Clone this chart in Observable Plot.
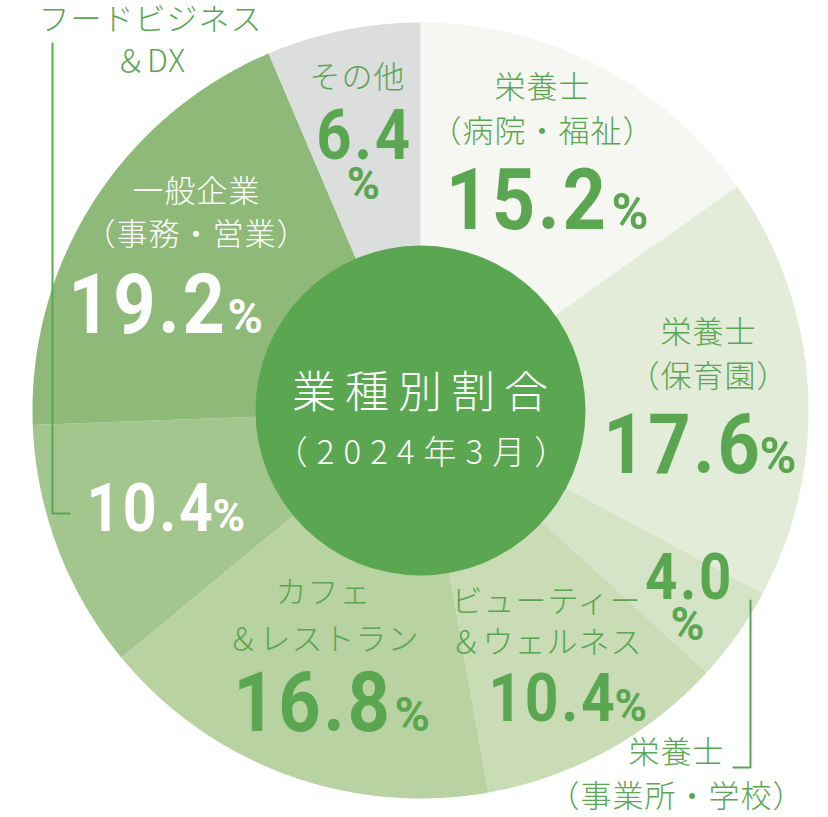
<!DOCTYPE html>
<html><head><meta charset="utf-8">
<script src="https://cdn.jsdelivr.net/npm/d3@7"></script>
<script src="https://cdn.jsdelivr.net/npm/@observablehq/plot@0.6"></script>
<style>
html,body{margin:0;padding:0;background:#fff;}
#chart svg{display:block;}
</style>
</head><body><div id="chart"></div>
<script>
// ---- data ----
const categories = ["栄養士（病院・福祉）","栄養士（保育園）","栄養士（事業所・学校）","ビューティー＆ウェルネス","カフェ＆レストラン","フードビジネス＆DX","一般企業（事務・営業）","その他"];
const values = [15.2, 17.6, 4.0, 10.4, 16.8, 10.4, 19.2, 6.4];
const labelLines = [["栄養士","（病院・福祉）"],["栄養士","（保育園）"],["栄養士","（事業所・学校）"],["ビューティー","＆ウェルネス"],["カフェ","＆レストラン"],["フードビジネス","＆DX"],["一般企業","（事務・営業）"],["その他"]];
const centerTitle = "業種別割合";
const centerSubtitle = "（2024年3月）";

// ---- styles / layout ----
const sliceColors = ["#f6f7f2","#e3ebd9","#d5e3c6","#c9dcb6","#b9d2a2","#a3c68e","#8eb978","#dcdddd"];
const GREEN = "#5aa651";
const WHITE = "#ffffff";
const CX = 420, CY = 410, R = 388, R0 = 165;
const NUM_SCALE = 0.88;
// label layout per slice: text line centers, number split point/baseline, sizes
const layout = [
  {lx:542, ly:[88,132], nx:608, ny:228, ns:86, px:611, py:228, ps:50, stack:false, color:GREEN},
  {lx:708, ly:[333,377], nx:762, ny:472, ns:84, px:759, py:472, ps:50, stack:false, color:GREEN},
  {lx:676, ly:[753,797], nx:689, ny:598, ns:64, px:687, py:639, ps:46, stack:true, color:GREEN},
  {lx:546, ly:[602,643], nx:617, ny:720, ns:67, px:614, py:720, ps:44, stack:false, color:GREEN},
  {lx:323, ly:[593,640], nx:392, ny:730, ns:84, px:394, py:730, ps:48, stack:false, color:GREEN},
  {lx:150, ly:[20,62], nx:215, ny:530, ns:67, px:212, py:530, ps:44, stack:false, color:WHITE, labelColor:GREEN},
  {lx:196, ly:[192,235], nx:227, ny:332, ns:84, px:227, py:332, ps:48, stack:false, color:WHITE},
  {lx:357, ly:[78], nx:364, ny:158, ns:70, px:363, py:198, ps:45, stack:true, color:GREEN}
];
const brackets = [
  {id:"left", pts:[[52,43],[52,513],[69,513]]},
  {id:"right", pts:[[750,600],[750,767],[733,767]]}
];

// ---- derived ----
const arcs = d3.pie().sort(null).value(d => d)(values);
const slicePts = [];
arcs.forEach((a, i) => {
  slicePts.push({cat: categories[i], x: CX, y: CY});
  const n = Math.max(4, Math.ceil((a.endAngle - a.startAngle) / (Math.PI / 360)));
  for (let k = 0; k <= n; k++) {
    const t = a.startAngle + (a.endAngle - a.startAngle) * k / n;
    slicePts.push({cat: categories[i], x: CX + R * Math.sin(t), y: CY - R * Math.cos(t)});
  }
});

const labelRows = [];
const numRows = [];
const pctRows = [];
values.forEach((v, i) => {
  const L = layout[i];
  labelLines[i].forEach((t, j) => labelRows.push({x: L.lx, y: L.ly[j], text: t, color: L.labelColor || L.color}));
  numRows.push({x: L.nx, y: L.ny, text: v.toFixed(1), size: L.ns, color: L.color, anchor: L.stack ? "middle" : "end"});
  pctRows.push({x: L.px, y: L.py, text: "%", size: L.ps, color: L.color, anchor: L.stack ? "middle" : "start"});
});
const bracketPts = brackets.flatMap(b => b.pts.map(([x, y]) => ({id: b.id, x, y})));

const NUMFONT = "Roboto,'Liberation Sans',sans-serif";
const JPFONT = "'Noto Sans CJK JP','Noto Sans',sans-serif";

const marks = [
  Plot.line(slicePts, {x: "x", y: "y", z: "cat", fill: "cat", stroke: "none", curve: "linear-closed"}),
  Plot.dot([{x: CX, y: CY}], {x: "x", y: "y", r: R0, fill: GREEN, stroke: "none"}),
  Plot.line(bracketPts, {x: "x", y: "y", z: "id", stroke: GREEN, strokeWidth: 2}),
  Plot.text(labelRows, {x: "x", y: "y", text: "text", fill: d => d.color, fontSize: 31, fontFamily: JPFONT, fontWeight: 300}),
  Plot.text([{x: CX, y: CY - 17}], {x: "x", y: "y", text: () => centerTitle, fill: WHITE, fontSize: 44, fontFamily: JPFONT, fontWeight: 300, dx: 4}),
  Plot.text([{x: CX, y: CY + 43}], {x: "x", y: "y", text: () => centerSubtitle, fill: WHITE, fontSize: 33, fontFamily: JPFONT, fontWeight: 300, dx: 5})
];
const groupKeys = (rows) => Array.from(new Set(rows.map(r => r.size + "|" + r.anchor)));
for (const k of groupKeys(numRows)) {
  const [s, a] = k.split("|");
  marks.push(Plot.text(numRows.filter(r => r.size + "|" + r.anchor === k), {x: "x", y: "y", text: "text", fill: d => d.color, fontSize: +s, textAnchor: a, lineAnchor: "bottom", fontFamily: NUMFONT, fontWeight: "bold"}));
}
for (const k of groupKeys(pctRows)) {
  const [s, a] = k.split("|");
  marks.push(Plot.text(pctRows.filter(r => r.size + "|" + r.anchor === k), {x: "x", y: "y", text: "text", fill: d => d.color, fontSize: +s, textAnchor: a, lineAnchor: "bottom", fontFamily: NUMFONT, fontWeight: "bold"}));
}

const chart = Plot.plot({
  width: 828, height: 817, margin: 0,
  x: {domain: [0, 828], range: [0, 828], axis: null},
  y: {domain: [0, 817], range: [0, 817], axis: null},
  color: {domain: categories, range: sliceColors},
  style: {background: "#fff"},
  marks
});
// letter spacing and condensed look for the big numbers
d3.select(chart).selectAll("g").each(function() {
  const fs = +this.getAttribute("font-size");
  const ff = this.getAttribute("font-family") || "";
  if (!fs) return;
  if (ff.includes("Noto")) {
    if (fs === 44) this.setAttribute("letter-spacing", "9");
    else if (fs === 33) this.setAttribute("letter-spacing", "9");
    else this.setAttribute("letter-spacing", "1");
  } else if (fs >= 60) {
    this.setAttribute("letter-spacing", "3");
    d3.select(this).selectAll("text").each(function() {
      const t = this.getAttribute("transform") || "";
      const x = this.getAttribute("x"), y = this.getAttribute("y");
      let tr = t;
      if (x != null || y != null) {
        tr += ` translate(${x || 0},${y || 0})`;
        this.removeAttribute("x"); this.removeAttribute("y");
      }
      this.setAttribute("transform", (tr + ` scale(${NUM_SCALE},1)`).trim());
    });
  }
});
document.getElementById("chart").appendChild(chart);
</script>
</body></html>
